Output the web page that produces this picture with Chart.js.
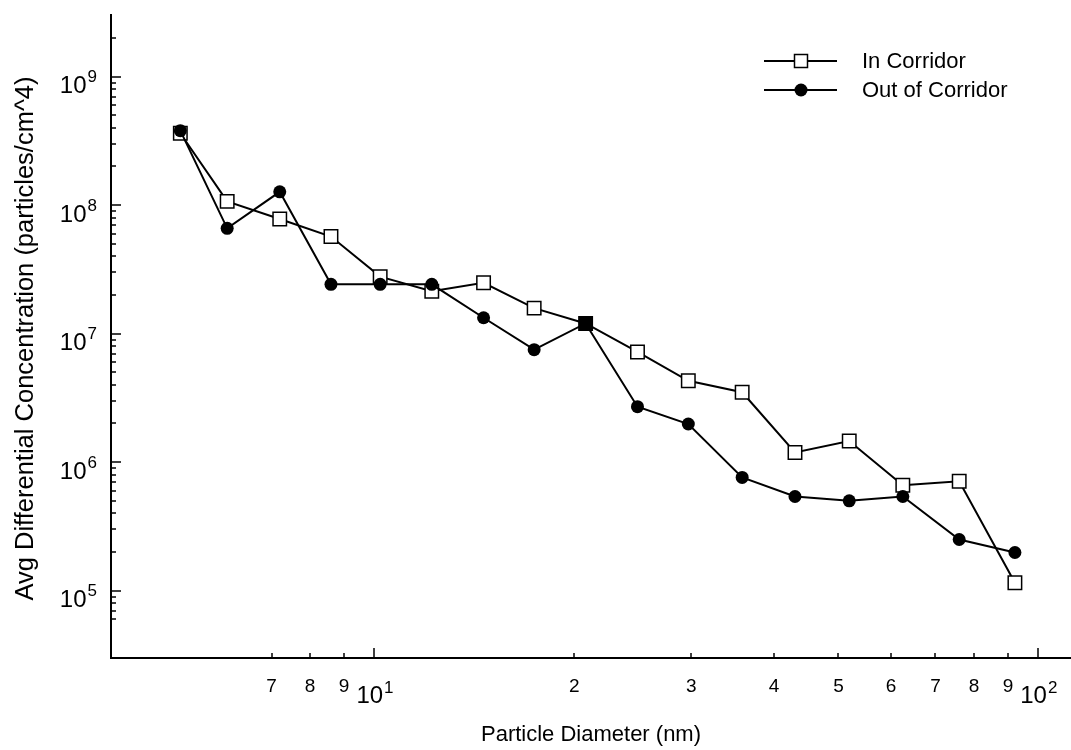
<!DOCTYPE html>
<html>
<head>
<meta charset="utf-8">
<title>Avg Differential Concentration</title>
<script src="https://cdn.jsdelivr.net/npm/chart.js@4.4.1/dist/chart.umd.min.js"></script>
<style>
  html, body { margin: 0; padding: 0; background: #fff; }
  #wrap { position: relative; width: 1071px; height: 750px; }
</style>
</head>
<body>
<div id="wrap"><canvas id="sizeChart"></canvas></div>
<script>
// particle diameter (nm) of each size bin
const diameters = [5.1, 6.0, 7.2, 8.6, 10.2, 12.2, 14.6, 17.4, 20.8, 24.9, 29.7, 35.8, 43.0, 51.9, 62.5, 76.0, 92.2];
// avg differential concentration (particles/cm^4)
const inCorridor = [3.63e8, 1.07e8, 7.8e7, 5.7e7, 2.78e7, 2.14e7, 2.49e7, 1.58e7, 1.2e7, 7.2e6, 4.3e6, 3.5e6, 1.19e6, 1.46e6, 6.6e5, 7.1e5, 1.15e5];
const outCorridor = [3.8e8, 6.6e7, 1.27e8, 2.42e7, 2.42e7, 2.42e7, 1.33e7, 7.5e6, 1.2e7, 2.7e6, 1.98e6, 7.6e5, 5.4e5, 5.0e5, 5.4e5, 2.5e5, 1.98e5];

const seriesNames = ['In Corridor', 'Out of Corridor'];

const xRange = [4.01, 112];
const yRange = [2.99e4, 3.02e9];

const xMajorTicks = [10, 100];
const xMajorExp = ['1', '2'];
const xMinorTicks = [7, 8, 9, 20, 30, 40, 50, 60, 70, 80, 90];
const xMinorLabels = ['7', '8', '9', '2', '3', '4', '5', '6', '7', '8', '9'];
const yMajorTicks = [1e5, 1e6, 1e7, 1e8, 1e9];
const yMajorExp = ['5', '6', '7', '8', '9'];
const yMinorTicks = [
  6e4, 7e4, 8e4, 9e4,
  2e5, 3e5, 4e5, 5e5, 6e5, 7e5, 8e5, 9e5,
  2e6, 3e6, 4e6, 5e6, 6e6, 7e6, 8e6, 9e6,
  2e7, 3e7, 4e7, 5e7, 6e7, 7e7, 8e7, 9e7,
  2e8, 3e8, 4e8, 5e8, 6e8, 7e8, 8e8, 9e8,
  2e9,
];

const FONT = '"Liberation Sans", Arial, Helvetica, sans-serif';
const solidSquareIndex = 8; // the two markers overlap here and print as a filled square

function drawSquare(ctx, x, y, fill) {
  ctx.fillStyle = fill;
  ctx.fillRect(x - 6.5, y - 6.5, 13, 13);
  ctx.lineWidth = 1.5;
  ctx.strokeRect(x - 6.5, y - 6.5, 13, 13);
}

function drawDot(ctx, x, y) {
  ctx.fillStyle = '#000';
  ctx.beginPath();
  ctx.arc(x, y, 6.5, 0, Math.PI * 2);
  ctx.fill();
}

const axisPlugin = {
  id: 'axisPlugin',
  afterDraw(chart) {
    const { ctx, chartArea } = chart;
    const xs = chart.scales.x;
    const ys = chart.scales.y;
    const bottom = chartArea.bottom;
    const left = chartArea.left;

    ctx.save();
    ctx.strokeStyle = '#000';
    ctx.fillStyle = '#000';

    // inward ticks
    ctx.lineWidth = 1.5;
    ctx.beginPath();
    xMinorTicks.forEach((v) => {
      const px = Math.round(xs.getPixelForValue(v));
      ctx.moveTo(px, bottom);
      ctx.lineTo(px, bottom - 5);
    });
    xMajorTicks.forEach((v) => {
      const px = Math.round(xs.getPixelForValue(v));
      ctx.moveTo(px, bottom);
      ctx.lineTo(px, bottom - 10);
    });
    yMinorTicks.forEach((v) => {
      const py = Math.round(ys.getPixelForValue(v));
      ctx.moveTo(left, py);
      ctx.lineTo(left + 5, py);
    });
    yMajorTicks.forEach((v) => {
      const py = Math.round(ys.getPixelForValue(v));
      ctx.moveTo(left, py);
      ctx.lineTo(left + 10, py);
    });
    ctx.stroke();

    // x tick labels
    ctx.textBaseline = 'alphabetic';
    ctx.textAlign = 'center';
    ctx.font = `19px ${FONT}`;
    xMinorTicks.forEach((v, i) => {
      ctx.fillText(xMinorLabels[i], xs.getPixelForValue(v), bottom + 34);
    });
    ctx.textAlign = 'left';
    xMajorTicks.forEach((v, i) => {
      const px = xs.getPixelForValue(v);
      ctx.font = `24px ${FONT}`;
      const wBase = ctx.measureText('10').width;
      ctx.font = `17px ${FONT}`;
      const wExp = ctx.measureText(xMajorExp[i]).width;
      const start = px - (wBase + wExp) / 2;
      ctx.font = `24px ${FONT}`;
      ctx.fillText('10', start, bottom + 45);
      ctx.font = `17px ${FONT}`;
      ctx.fillText(xMajorExp[i], start + wBase + 1, bottom + 35);
    });

    // y tick labels
    ctx.textAlign = 'right';
    yMajorTicks.forEach((v, i) => {
      const py = ys.getPixelForValue(v);
      ctx.font = `17px ${FONT}`;
      const wExp = ctx.measureText(yMajorExp[i]).width;
      ctx.fillText(yMajorExp[i], 97, py + 5.5);
      ctx.font = `24px ${FONT}`;
      ctx.fillText('10', 96 - wExp, py + 16.6);
    });

    // axis titles
    ctx.font = `22px ${FONT}`;
    ctx.textAlign = 'center';
    ctx.textBaseline = 'middle';
    ctx.fillText('Particle Diameter (nm)', (chartArea.left + chartArea.right) / 2, 735);
    ctx.save();
    ctx.translate(26, 338.5);
    ctx.rotate(-Math.PI / 2);
    ctx.font = `25.5px ${FONT}`;
    ctx.fillText('Avg Differential Concentration (particles/cm^4)', 0, 0);
    ctx.restore();

    // legend
    const rows = [61, 90];
    ctx.lineWidth = 2;
    rows.forEach((ry) => {
      ctx.beginPath();
      ctx.moveTo(764, ry);
      ctx.lineTo(837, ry);
      ctx.stroke();
    });
    drawSquare(ctx, 801, rows[0], '#fff');
    drawDot(ctx, 801, rows[1]);
    ctx.fillStyle = '#000';
    ctx.font = `22px ${FONT}`;
    ctx.textAlign = 'left';
    ctx.textBaseline = 'middle';
    ctx.fillText(seriesNames[0], 862, rows[0] + 1);
    ctx.fillText(seriesNames[1], 862, rows[1] + 1);

    ctx.restore();
  },
};

const ctx = document.getElementById('sizeChart');
new Chart(ctx, {
  type: 'line',
  data: {
    datasets: [
      {
        label: seriesNames[1],
        data: diameters.map((d, i) => ({ x: d, y: outCorridor[i] })),
        borderColor: '#000',
        borderWidth: 2,
        pointStyle: 'circle',
        pointRadius: 6.5,
        pointBackgroundColor: '#000',
        pointBorderColor: '#000',
        pointBorderWidth: 0,
        tension: 0,
      },
      {
        label: seriesNames[0],
        data: diameters.map((d, i) => ({ x: d, y: inCorridor[i] })),
        borderColor: '#000',
        borderWidth: 2,
        pointStyle: 'rect',
        pointRadius: 9.5,
        pointBackgroundColor: (c) => (c.dataIndex === solidSquareIndex ? '#000' : '#fff'),
        pointBorderColor: '#000',
        pointBorderWidth: 1.5,
        tension: 0,
      },
    ],
  },
  options: {
    responsive: true,
    maintainAspectRatio: false,
    animation: false,
    layout: { autoPadding: false, padding: { top: 15, right: 0, left: 0, bottom: 0 } },
    plugins: {
      legend: { display: false },
      tooltip: { enabled: false },
    },
    scales: {
      x: {
        type: 'logarithmic',
        min: xRange[0],
        max: xRange[1],
        ticks: { display: false },
        grid: { display: false },
        border: { display: true, color: '#000', width: 2 },
        afterFit(scale) { scale.height = 92; },
      },
      y: {
        type: 'logarithmic',
        min: yRange[0],
        max: yRange[1],
        ticks: { display: false },
        grid: { display: false },
        border: { display: true, color: '#000', width: 2 },
        afterFit(scale) { scale.width = 111; },
      },
    },
  },
  plugins: [axisPlugin],
});
</script>
</body>
</html>
